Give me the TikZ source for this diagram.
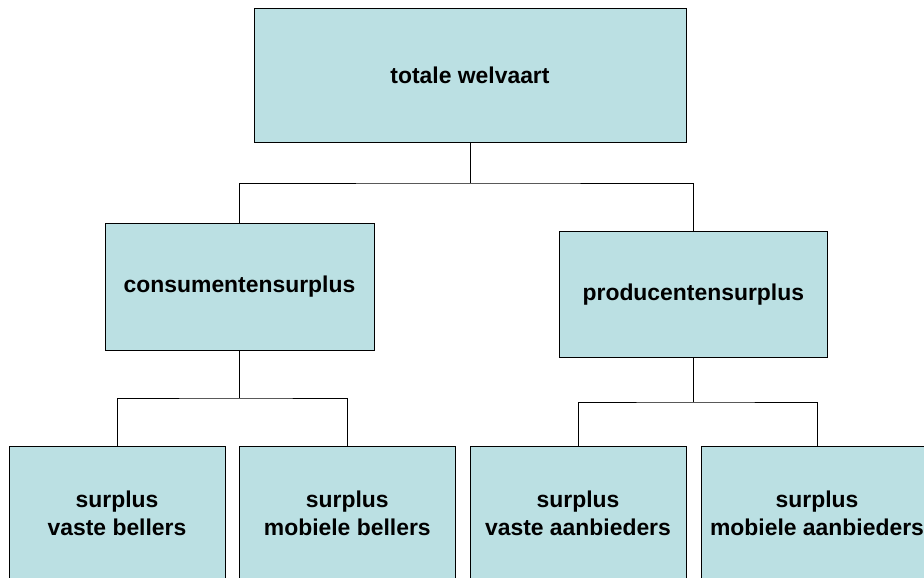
\documentclass[tikz,border=0pt]{standalone}
\usepackage{fontspec}
\setmainfont{Liberation Sans}
\usepackage{tikz}
\definecolor{cpale}{RGB}{187,224,227}

\begin{document}
\begin{tikzpicture}[x=1pt, y=-1pt, line width=1pt, font=\bfseries\fontsize{22.9}{28}\selectfont]
  \tikzstyle{box}=[rectangle, draw=black, fill=cpale, text=black, inner sep=0pt, outer sep=0pt, align=center]

	\useasboundingbox (0,0) rectangle (924,578);
	\clip (0,0) rectangle (924,578);

	\node[box, minimum width=432pt, minimum height=133pt] (TW) at (470,75.5) {totale welvaart};
	\node[box, minimum width=269pt, minimum height=127pt] (CS) at (239.5,286.5) {consumentensurplus};
	\node[box, minimum width=268pt, minimum height=125.5pt] (PS) at (693.3,294.3) {producentensurplus};

	\node[box, minimum width=216pt, minimum height=134pt] (SVB) at (117,513.3) {surplus\\vaste bellers};
	\node[box, minimum width=216pt, minimum height=134pt] (SMB) at (347.3,513.3) {surplus\\mobiele bellers};
	\node[box, minimum width=216pt, minimum height=134pt] (SVA) at (578,513.3) {surplus\\vaste aanbieders};
	\node[box, minimum width=232pt, minimum height=134pt] (SMA) at (817,513.3) {surplus\\mobiele aanbieders};

	\coordinate (J0) at (470,183);
	\coordinate (J1) at (239.5,398);
	\coordinate (J2) at (693.3,402);

	\draw (TW.south) -- (J0);
	\draw (CS.north) |- (J0) -| (PS.north);
	\draw (CS.south) -- (J1);
	\draw (SVB.north) |- (J1) -| (SMB.north);
	\draw (PS.south) -- (J2);
	\draw (SVA.north) |- (J2) -| (SMA.north);

\end{tikzpicture}
\end{document}
